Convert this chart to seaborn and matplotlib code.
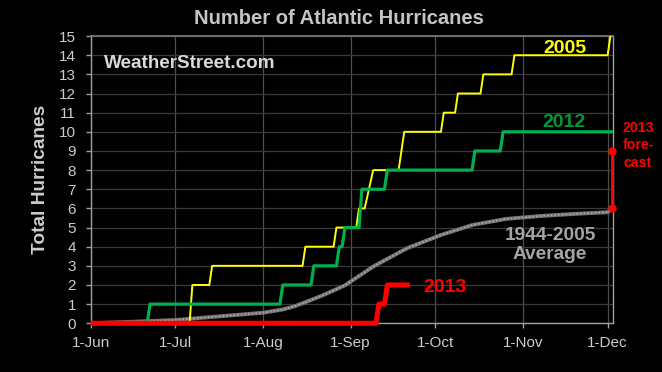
import pandas as pd
import matplotlib.pyplot as plt
import seaborn as sns

# corners of the step lines (month-day, running total)
days_2005 = ['06-01', '07-06', '07-07', '07-13', '07-14', '08-15', '08-16', '08-26', '08-27',
             '09-03', '09-04', '09-06', '09-09', '09-18', '09-20', '10-03', '10-04', '10-08',
             '10-09', '10-17', '10-18', '10-28', '10-29', '12-01', '12-02']
count_2005 = [0, 0, 2, 2, 3, 3, 4, 4, 5, 5, 6, 6, 8, 8, 10, 10, 11, 11, 12, 12, 13, 13, 14, 14, 15]

days_2012 = ['06-01', '06-21', '06-22', '08-07', '08-08', '08-18', '08-19', '08-27', '08-28',
             '08-29', '08-30', '09-04', '09-05', '09-13', '09-14', '10-14', '10-15', '10-24',
             '10-25', '12-03']
count_2012 = [0, 0, 1, 1, 2, 2, 3, 3, 4, 4, 5, 5, 7, 7, 8, 8, 9, 9, 10, 10]

days_2013 = ['06-01', '09-10', '09-11', '09-13', '09-14', '09-22']
count_2013 = [0, 0, 1, 1, 2, 2]

# 1944-2005 average
avg_days = ['06-01', '06-16', '07-01', '07-18', '08-01', '08-08', '08-12', '08-16', '08-22',
            '08-30', '09-09', '09-21', '10-03', '10-14', '10-26', '11-07', '11-19', '12-01', '12-02']
avg_count = [0.0, 0.08, 0.17, 0.38, 0.55, 0.72, 0.88, 1.1, 1.45, 1.98, 2.96, 3.92, 4.61,
             5.13, 5.45, 5.6, 5.71, 5.8, 5.9]

# 2013 forecast range
forecast_day = ['12-02 12:00', '12-02 12:00']
forecast_range = [6, 9]

month_ticks = ['06-01', '07-01', '08-01', '09-01', '10-01', '11-01', '12-01']
month_labels = ['1-Jun', '1-Jul', '1-Aug', '1-Sep', '1-Oct', '1-Nov', '1-Dec']


def md(s):
    return pd.Timestamp('2013-' + s)


def to_dates(lst):
    return [md(s) for s in lst]


sns.set_theme(style='ticks', rc={'axes.facecolor': 'black', 'figure.facecolor': 'black'})
plt.rcParams['font.family'] = ['Liberation Sans', 'DejaVu Sans']

fig = plt.figure(figsize=(6.62, 3.72), dpi=100, facecolor='black')
ax = fig.add_axes([0.137, 0.131, 0.7885, 0.772])
ax.set_facecolor('black')

# average: gray line with a grainy look
sns.lineplot(x=to_dates(avg_days), y=avg_count, ax=ax, color='#747474', lw=2.8,
             estimator=None, sort=False, zorder=3)
sns.lineplot(x=to_dates(avg_days), y=avg_count, ax=ax, color='#aaaaaa', lw=1.2,
             linestyle=(0, (1, 1.2)), estimator=None, sort=False, zorder=3)

sns.lineplot(x=to_dates(days_2005), y=count_2005, ax=ax, color='#ffff00', lw=1.4,
             estimator=None, sort=False, zorder=4)
sns.lineplot(x=to_dates(days_2012), y=count_2012, ax=ax, color='#00b050', lw=2.3,
             estimator=None, sort=False, zorder=4)
sns.lineplot(x=to_dates(days_2013), y=count_2013, ax=ax, color='#ff0000', lw=3.6,
             estimator=None, sort=False, zorder=5, clip_on=False, solid_capstyle='butt')
sns.lineplot(x=to_dates(forecast_day), y=forecast_range, ax=ax, color='#ff0000', lw=2,
             marker='o', markersize=6, markeredgewidth=0, estimator=None, sort=False,
             zorder=6, clip_on=False)

ax.set_xlim(md('06-01'), md('12-02 19:00'))
ax.set_ylim(0, 15)
ax.set_yticks(range(0, 16))
ax.set_xticks(to_dates(month_ticks))
ax.set_xticklabels(month_labels)

ax.grid(axis='y', color='#3a3a3a', lw=0.9)
ax.grid(axis='x', color='#4e4e4e', lw=0.9)
ax.set_axisbelow(True)

for side in ['left', 'bottom', 'right']:
    ax.spines[side].set_color('#a0a0a0')
    ax.spines[side].set_linewidth(1)
ax.spines['top'].set_color('#7a7a7a')
ax.tick_params(axis='both', direction='out', length=3.6, width=1, color='#a0a0a0',
               labelcolor='#cccccc', labelsize=11)
ax.tick_params(axis='y', pad=7)
ax.tick_params(axis='x', pad=5.5)

ax.set_xlabel('')
ax.set_ylabel('Total Hurricanes', fontsize=13.8, fontweight='bold', color='#cccccc', labelpad=7)

# series labels (va='baseline' pins the last line's baseline)
ax.text(md('11-15 19:00'), 14.13, '2005', color='#ffff00', fontsize=14, fontweight='bold',
        ha='center', va='baseline')
ax.text(md('11-15 12:00'), 10.27, '2012', color='#009a3a', fontsize=14, fontweight='bold',
        ha='center', va='baseline')
ax.text(md('10-04 07:00'), 1.65, '2013', color='#ff0000', fontsize=14, fontweight='bold',
        ha='center', va='baseline')
ax.text(md('11-10 14:00'), 3.34, '1944-2005\nAverage', color='#a4a4a4', fontsize=13.8,
        fontweight='bold', ha='center', va='baseline', linespacing=1.2)

fig.text(0.9637, 0.5519, '2013\nfore-\ncast', color='#ff0000', fontsize=10.2,
         fontweight='bold', ha='center', va='baseline', linespacing=1.3)
fig.text(0.5116, 0.9347, 'Number of Atlantic Hurricanes', color='#c4c4c4', fontsize=14.5,
         fontweight='bold', ha='center', va='baseline')
fig.text(0.1576, 0.8164, 'WeatherStreet.com', color='#d8d8d8', fontsize=13.6,
         fontweight='bold', ha='left', va='baseline')

fig.savefig('out.png', dpi=100, facecolor='black')
plt.close(fig)
